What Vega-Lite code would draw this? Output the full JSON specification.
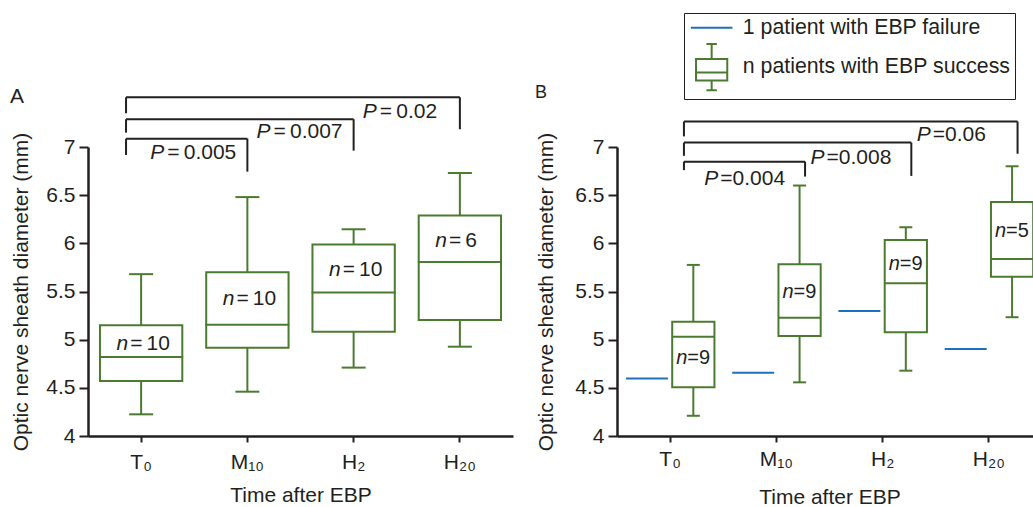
{
  "$schema": "https://vega.github.io/schema/vega-lite/v6.json",
  "background": "white",
  "padding": {"left": 10, "top": 12, "right": 0, "bottom": 0},
  "bounds": "flush",
  "spacing": 104,
  "config": {
    "font": "Liberation Sans",
    "view": {"stroke": null},
    "axis": {"grid": false, "domainColor": "#231f20", "tickColor": "#231f20", "labelColor": "#231f20", "titleColor": "#231f20", "titleFontWeight": "normal", "labelFontSize": 21, "titleFontSize": 21, "domainWidth": 2.5, "tickWidth": 2},
    "title": {"color": "#231f20", "fontWeight": "normal"}
  },
  "datasets": {
    "boxA": [
      {"time": "T\u2080", "min": 4.225, "q1": 4.57, "median": 4.82, "q3": 5.15, "max": 5.68, "nlabel": "=\u200910", "ny": 4.955},
      {"time": "M\u2081\u2080", "min": 4.46, "q1": 4.917, "median": 5.155, "q3": 5.70, "max": 6.48, "nlabel": "=\u200910", "ny": 5.42},
      {"time": "H\u2082", "min": 4.71, "q1": 5.083, "median": 5.49, "q3": 5.987, "max": 6.146, "nlabel": "=\u200910", "ny": 5.72},
      {"time": "H\u2082\u2080", "min": 4.927, "q1": 5.205, "median": 5.807, "q3": 6.29, "max": 6.73, "nlabel": "=\u20096", "ny": 6.02}
    ],
    "bracketsA": [
      {"from": "T\u2080", "to": "M\u2081\u2080", "top": 7.086, "left": 6.917, "right": 6.744, "p": "=\u20090.005", "py": 6.935},
      {"from": "T\u2080", "to": "H\u2082", "top": 7.288, "left": 7.149, "right": 6.962, "p": "=\u20090.007", "py": 7.16},
      {"from": "T\u2080", "to": "H\u2082\u2080", "top": 7.516, "left": 7.35, "right": 7.184, "p": "=\u20090.02", "py": 7.36}
    ],
    "boxB": [
      {"time": "T\u2080", "group": "n patients with EBP success", "min": 4.21, "q1": 4.506, "median": 5.03, "q3": 5.187, "max": 5.776, "nlabel": "=9", "ny": 4.807},
      {"time": "M\u2081\u2080", "group": "n patients with EBP success", "min": 4.557, "q1": 5.038, "median": 5.228, "q3": 5.783, "max": 6.60, "nlabel": "=9", "ny": 5.50},
      {"time": "H\u2082", "group": "n patients with EBP success", "min": 4.678, "q1": 5.077, "median": 5.586, "q3": 6.035, "max": 6.167, "nlabel": "=9", "ny": 5.79},
      {"time": "H\u2082\u2080", "group": "n patients with EBP success", "min": 5.233, "q1": 5.654, "median": 5.838, "q3": 6.43, "max": 6.80, "nlabel": "=5", "ny": 6.13}
    ],
    "failB": [
      {"time": "T\u2080", "group": "1 patient with EBP failure", "value": 4.597},
      {"time": "M\u2081\u2080", "group": "1 patient with EBP failure", "value": 4.657},
      {"time": "H\u2082", "group": "1 patient with EBP failure", "value": 5.298},
      {"time": "H\u2082\u2080", "group": "1 patient with EBP failure", "value": 4.903}
    ],
    "bracketsB": [
      {"from": "T\u2080", "to": "M\u2081\u2080", "top": 6.848, "left": 6.76, "right": 6.693, "p": "=0.004", "py": 6.667},
      {"from": "T\u2080", "to": "H\u2082", "top": 7.046, "left": 6.908, "right": 6.70, "p": "=0.008", "py": 6.884},
      {"from": "T\u2080", "to": "H\u2082\u2080", "top": 7.264, "left": 7.11, "right": 6.93, "p": "=0.06", "py": 7.126}
    ]
  },
  "hconcat": [
    {
      "width": 425,
      "height": 289,
      "title": {"text": "A", "anchor": "start", "frame": "group", "dx": -78, "dy": 15, "fontSize": 21},
      "layer": [
        {
          "data": {"name": "boxA"},
          "mark": {"type": "rule", "color": "#4b7b30", "strokeWidth": 2},
          "encoding": {
            "x": {"field": "time", "type": "nominal", "title": "Time after EBP",
              "scale": {"domain": ["T\u2080", "M\u2081\u2080", "H\u2082", "H\u2082\u2080"], "paddingInner": 0, "paddingOuter": 0},
              "axis": {"labelAngle": 0, "tickSize": 6, "labelPadding": 9, "titlePadding": 12}},
            "y": {"field": "min", "type": "quantitative", "title": "Optic nerve sheath diameter (mm)",
              "scale": {"domain": [4, 7], "nice": false, "zero": false},
              "axis": {"values": [4, 4.25, 4.5, 4.75, 5, 5.25, 5.5, 5.75, 6, 6.25, 6.5, 6.75, 7], "labelExpr": "datum.value % 0.5 == 0 ? format(datum.value, '~g') : ''", "tickSize": 9, "labelPadding": 4, "titlePadding": 14}},
            "y2": {"field": "max"}
          }
        },
        {
          "data": {"name": "boxA"},
          "mark": {"type": "bar", "fill": "white", "stroke": "#4b7b30", "strokeWidth": 2, "width": {"band": 0.775}},
          "encoding": {
            "x": {"field": "time", "type": "nominal"},
            "y": {"field": "q1", "type": "quantitative"},
            "y2": {"field": "q3"}
          }
        },
        {
          "data": {"name": "boxA"},
          "mark": {"type": "tick", "color": "#4b7b30", "thickness": 2, "size": 84, "orient": "horizontal", "opacity": 1},
          "encoding": {
            "x": {"field": "time", "type": "nominal"},
            "y": {"field": "median", "type": "quantitative"}
          }
        },
        {
          "data": {"name": "boxA"},
          "transform": [{"fold": ["min", "max"], "as": ["stat", "v"]}],
          "mark": {"type": "tick", "color": "#4b7b30", "thickness": 2, "size": 24, "orient": "horizontal", "opacity": 1},
          "encoding": {
            "x": {"field": "time", "type": "nominal"},
            "y": {"field": "v", "type": "quantitative"}
          }
        },
        {
          "data": {"name": "boxA"},
          "mark": {"type": "text", "text": "n", "fontStyle": "italic", "align": "right", "baseline": "middle", "dx": -13, "fontSize": 21, "color": "#231f20"},
          "encoding": {
            "x": {"field": "time", "type": "nominal"},
            "y": {"field": "ny", "type": "quantitative"}
          }
        },
        {
          "data": {"name": "boxA"},
          "mark": {"type": "text", "align": "left", "baseline": "middle", "dx": -11, "fontSize": 21, "color": "#231f20"},
          "encoding": {
            "x": {"field": "time", "type": "nominal"},
            "y": {"field": "ny", "type": "quantitative"},
            "text": {"field": "nlabel"}
          }
        },
        {
          "data": {"name": "bracketsA"},
          "mark": {"type": "rule", "color": "#231f20", "strokeWidth": 2},
          "encoding": {
            "x": {"field": "from", "type": "nominal", "bandPosition": 0.358},
            "x2": {"field": "to", "bandPosition": 0.5},
            "y": {"field": "top", "type": "quantitative"}
          }
        },
        {
          "data": {"name": "bracketsA"},
          "mark": {"type": "rule", "color": "#231f20", "strokeWidth": 2},
          "encoding": {
            "x": {"field": "from", "type": "nominal", "bandPosition": 0.358},
            "y": {"field": "top", "type": "quantitative"},
            "y2": {"field": "left"}
          }
        },
        {
          "data": {"name": "bracketsA"},
          "mark": {"type": "rule", "color": "#231f20", "strokeWidth": 2},
          "encoding": {
            "x": {"field": "to", "type": "nominal", "bandPosition": 0.5},
            "y": {"field": "top", "type": "quantitative"},
            "y2": {"field": "right"}
          }
        },
        {
          "data": {"name": "bracketsA"},
          "mark": {"type": "text", "text": "P", "fontStyle": "italic", "align": "right", "baseline": "middle", "dx": -30, "fontSize": 21, "color": "#231f20"},
          "encoding": {
            "x": {"field": "to", "type": "nominal", "bandPosition": 0},
            "y": {"field": "py", "type": "quantitative"}
          }
        },
        {
          "data": {"name": "bracketsA"},
          "mark": {"type": "text", "align": "left", "baseline": "middle", "dx": -27, "fontSize": 21, "color": "#231f20"},
          "encoding": {
            "x": {"field": "to", "type": "nominal", "bandPosition": 0},
            "y": {"field": "py", "type": "quantitative"},
            "text": {"field": "p"}
          }
        }
      ]
    },
    {
      "width": 425,
      "height": 289,
      "title": {"text": "B", "anchor": "start", "frame": "group", "dx": -82, "dy": -15, "fontSize": 18},
      "layer": [
        {
          "data": {"name": "boxB"},
          "mark": {"type": "rule", "color": "#4b7b30", "strokeWidth": 2},
          "encoding": {
            "x": {"field": "time", "type": "nominal", "title": "Time after EBP",
              "scale": {"domain": ["T\u2080", "M\u2081\u2080", "H\u2082", "H\u2082\u2080"], "paddingInner": 0, "paddingOuter": 0},
              "axis": {"labelAngle": 0, "tickSize": 6, "labelPadding": 6, "titlePadding": 17}},
            "xOffset": {"field": "group", "type": "nominal", "scale": {"domain": ["1 patient with EBP failure", "n patients with EBP success"], "paddingInner": 0.09, "paddingOuter": 0.19}},
            "y": {"field": "min", "type": "quantitative", "title": "Optic nerve sheath diameter (mm)",
              "scale": {"domain": [4, 7], "nice": false, "zero": false},
              "axis": {"values": [4, 4.25, 4.5, 4.75, 5, 5.25, 5.5, 5.75, 6, 6.25, 6.5, 6.75, 7], "labelExpr": "datum.value % 0.5 == 0 ? format(datum.value, '~g') : ''", "tickSize": 9, "labelPadding": 4, "titlePadding": 18}},
            "y2": {"field": "max"}
          }
        },
        {
          "data": {"name": "boxB"},
          "mark": {"type": "bar", "fill": "white", "stroke": "#4b7b30", "strokeWidth": 2},
          "encoding": {
            "x": {"field": "time", "type": "nominal"},
            "xOffset": {"field": "group", "type": "nominal"},
            "y": {"field": "q1", "type": "quantitative"},
            "y2": {"field": "q3"}
          }
        },
        {
          "data": {"name": "boxB"},
          "mark": {"type": "tick", "color": "#4b7b30", "thickness": 2, "size": 43, "orient": "horizontal", "opacity": 1},
          "encoding": {
            "x": {"field": "time", "type": "nominal"},
            "xOffset": {"field": "group", "type": "nominal"},
            "y": {"field": "median", "type": "quantitative"}
          }
        },
        {
          "data": {"name": "boxB"},
          "transform": [{"fold": ["min", "max"], "as": ["stat", "v"]}],
          "mark": {"type": "tick", "color": "#4b7b30", "thickness": 2, "size": 13, "orient": "horizontal", "opacity": 1},
          "encoding": {
            "x": {"field": "time", "type": "nominal"},
            "xOffset": {"field": "group", "type": "nominal"},
            "y": {"field": "v", "type": "quantitative"}
          }
        },
        {
          "data": {"name": "failB"},
          "mark": {"type": "tick", "color": "#1f6fc0", "thickness": 2, "size": 42, "orient": "horizontal", "opacity": 1},
          "encoding": {
            "x": {"field": "time", "type": "nominal"},
            "xOffset": {"field": "group", "type": "nominal"},
            "y": {"field": "value", "type": "quantitative"}
          }
        },
        {
          "data": {"name": "failB"},
          "mark": {"type": "point", "filled": false, "opacity": 0},
          "encoding": {
            "x": {"field": "time", "type": "nominal"},
            "xOffset": {"field": "group", "type": "nominal"},
            "y": {"field": "value", "type": "quantitative"},
            "color": {"field": "group", "type": "nominal",
              "scale": {"domain": ["1 patient with EBP failure", "n patients with EBP success"], "range": ["#1f6fc0", "#4b7b30"]},
              "legend": {"title": null, "orient": "none", "legendX": 596, "legendY": -134, "strokeColor": "#231f20", "padding": 4, "labelFontSize": 21.3, "labelLimit": 500, "labelColor": "#231f20", "labelOffset": 20.5, "symbolOffset": 13, "symbolSize": 88, "symbolStrokeWidth": 2, "symbolOpacity": 1, "rowPadding": 1.5,
                "encode": {"symbols": {"update": {"opacity": {"value": 1}, "strokeOpacity": {"value": 1}}}}}},
            "shape": {"field": "group", "type": "nominal",
              "scale": {"domain": ["1 patient with EBP failure", "n patients with EBP success"], "range": ["M-4.435,0H4.435", "M-1.11,-4.92H1.11M0,-4.92V-1.73M-3.33,-1.73H3.33V2.84H-3.33ZM-3.33,1.15H3.33M0,2.84V4.92M-1.11,4.92H1.11"]},
              "legend": {"title": null, "orient": "none", "legendX": 596, "legendY": -134, "strokeColor": "#231f20", "padding": 4, "labelFontSize": 21.3, "labelLimit": 500, "labelColor": "#231f20", "labelOffset": 20.5, "symbolOffset": 13, "symbolSize": 88, "symbolStrokeWidth": 2, "symbolOpacity": 1, "rowPadding": 1.5,
                "encode": {"symbols": {"update": {"opacity": {"value": 1}, "strokeOpacity": {"value": 1}}}}}}
          }
        },
        {
          "data": {"name": "boxB"},
          "mark": {"type": "text", "text": "n", "fontStyle": "italic", "align": "right", "baseline": "middle", "dx": -6, "fontSize": 20, "color": "#231f20"},
          "encoding": {
            "x": {"field": "time", "type": "nominal"},
            "xOffset": {"field": "group", "type": "nominal"},
            "y": {"field": "ny", "type": "quantitative"}
          }
        },
        {
          "data": {"name": "boxB"},
          "mark": {"type": "text", "align": "left", "baseline": "middle", "dx": -6, "fontSize": 20, "color": "#231f20"},
          "encoding": {
            "x": {"field": "time", "type": "nominal"},
            "xOffset": {"field": "group", "type": "nominal"},
            "y": {"field": "ny", "type": "quantitative"},
            "text": {"field": "nlabel"}
          }
        },
        {
          "data": {"name": "bracketsB"},
          "mark": {"type": "rule", "color": "#231f20", "strokeWidth": 2},
          "encoding": {
            "x": {"field": "from", "type": "nominal", "bandPosition": 0.63},
            "x2": {"field": "to", "bandPosition": 0.77},
            "y": {"field": "top", "type": "quantitative"}
          }
        },
        {
          "data": {"name": "bracketsB"},
          "mark": {"type": "rule", "color": "#231f20", "strokeWidth": 2},
          "encoding": {
            "x": {"field": "from", "type": "nominal", "bandPosition": 0.63},
            "y": {"field": "top", "type": "quantitative"},
            "y2": {"field": "left"}
          }
        },
        {
          "data": {"name": "bracketsB"},
          "mark": {"type": "rule", "color": "#231f20", "strokeWidth": 2},
          "encoding": {
            "x": {"field": "to", "type": "nominal", "bandPosition": 0.77},
            "y": {"field": "top", "type": "quantitative"},
            "y2": {"field": "right"}
          }
        },
        {
          "data": {"name": "bracketsB"},
          "mark": {"type": "text", "text": "P", "fontStyle": "italic", "align": "right", "baseline": "middle", "dx": -5, "fontSize": 21, "color": "#231f20"},
          "encoding": {
            "x": {"field": "to", "type": "nominal", "bandPosition": 0},
            "y": {"field": "py", "type": "quantitative"}
          }
        },
        {
          "data": {"name": "bracketsB"},
          "mark": {"type": "text", "align": "left", "baseline": "middle", "dx": -3, "fontSize": 21, "color": "#231f20"},
          "encoding": {
            "x": {"field": "to", "type": "nominal", "bandPosition": 0},
            "y": {"field": "py", "type": "quantitative"},
            "text": {"field": "p"}
          }
        }
      ]
    }
  ]
}
